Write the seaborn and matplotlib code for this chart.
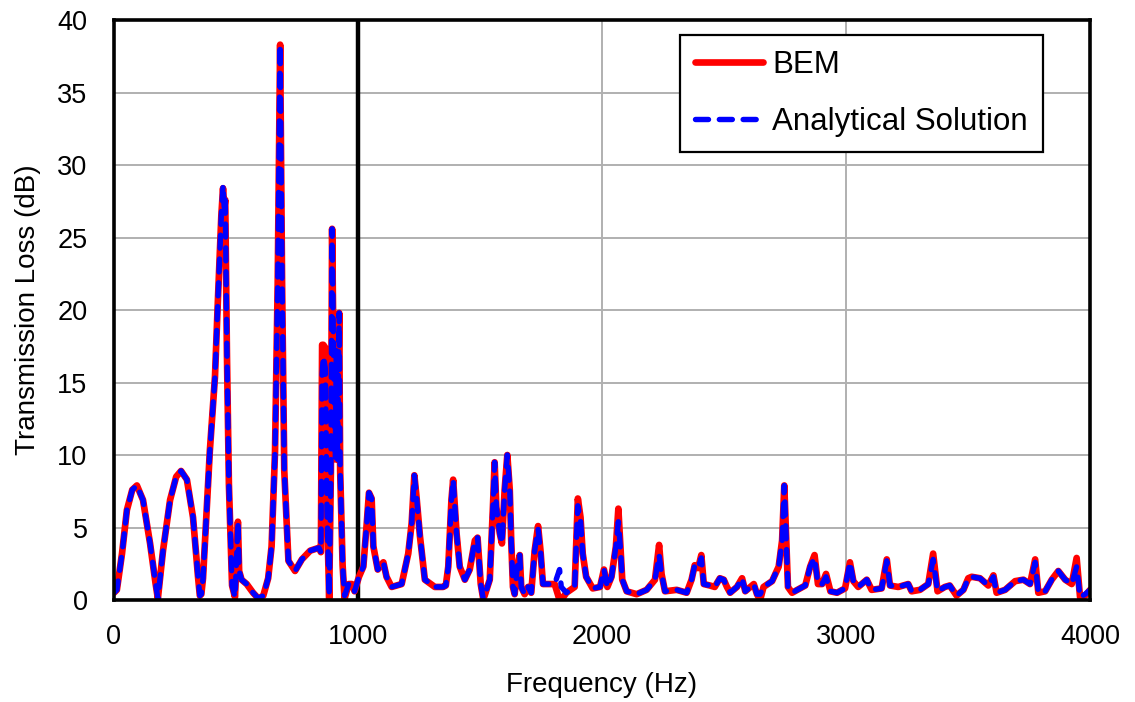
import matplotlib
matplotlib.use("Agg")
import matplotlib.pyplot as plt
import seaborn as sns
import pandas as pd

# ---------------- data ----------------
freq = [0, 12, 33, 53, 75, 94, 119, 148, 170, 180, 201, 230, 255, 275, 299, 324, 345, 352, 358, 365,
        393, 414, 426, 440, 447, 452, 456, 463, 471, 484, 496, 503, 508, 513, 523, 544, 570, 592, 612,
        632, 646, 660, 671, 681, 689, 698, 715, 742, 770, 804, 840, 848, 853, 858, 866, 873, 882, 889,
        894, 900, 907, 911, 916, 923, 927, 937, 945, 962, 975, 986, 1004, 1022, 1036, 1045, 1056, 1063,
        1081, 1104, 1117, 1138, 1179, 1206, 1220, 1231, 1240, 1254, 1274, 1315, 1349, 1360, 1370, 1383,
        1390, 1404, 1417, 1438, 1458, 1479, 1490, 1503, 1513, 1519, 1540, 1553, 1560, 1567, 1581, 1590,
        1601, 1612, 1622, 1628, 1635, 1642, 1653, 1663, 1669, 1683, 1697, 1710, 1724, 1738, 1748, 1758,
        1785, 1806, 1826, 1833, 1854, 1888, 1895, 1901, 1912, 1921, 1935, 1962, 1992, 2008, 2022, 2039,
        2057, 2067, 2077, 2083, 2101, 2142, 2183, 2217, 2234, 2244, 2258, 2306, 2347, 2367, 2380, 2394,
        2407, 2417, 2442, 2462, 2483, 2499, 2512, 2525, 2553, 2574, 2587, 2622, 2635, 2648, 2662, 2697,
        2724, 2738, 2747, 2755, 2762, 2779, 2833, 2853, 2871, 2885, 2902, 2918, 2936, 2963, 2996, 3016,
        3030, 3050, 3085, 3105, 3146, 3167, 3180, 3214, 3255, 3269, 3303, 3337, 3357, 3375, 3405, 3425,
        3453, 3481, 3501, 3515, 3549, 3583, 3604, 3617, 3652, 3693, 3727, 3754, 3775, 3788, 3816, 3843,
        3870, 3898, 3925, 3945, 3959, 3980, 4000]

bem = [0.5, 0.7, 3.2, 6.2, 7.6, 7.9, 6.9, 3.9, 1.2, 0.1, 3.4, 6.9, 8.5, 8.9, 8.3, 5.7, 1.5, 0.3, 0.4, 1.5,
       10.3, 15.4, 20.7, 26.5, 28.4, 27.0, 27.6, 17.0, 8.0, 1.0, 0.2, 3.0, 5.4, 2.0, 1.4, 1.1, 0.5, 0.1, 0.3,
       1.5, 3.7, 10.2, 21.8, 38.3, 21.8, 8.9, 2.7, 2.0, 2.8, 3.4, 3.6, 3.3, 17.6, 17.6, 17.4, 6.3, 0.1, 8.9,
       25.6, 16.7, 9.7, 17.2, 9.7, 19.8, 8.9, 2.4, 0.1, 1.1, 1.1, 0.6, 1.6, 2.3, 5.3, 7.4, 7.0, 3.7,
       2.1, 2.6, 1.6, 0.9, 1.1, 3.2, 5.3, 8.6, 7.1, 4.4, 1.4, 0.9, 0.9, 1.0, 2.3, 6.9,
       8.3, 4.6, 2.3, 1.4, 2.1, 4.1, 4.3, 1.1, 0.1, 0.3, 1.4, 6.4, 9.5, 6.4, 4.6, 3.9,
       7.6, 10.0, 7.6, 4.1, 0.9, 0.4, 2.3, 3.1, 0.9, 0.4, 0.9, 0.5, 3.4, 5.1, 3.4, 1.1,
       1.1, 1.1, 0.0, 0.0, 0.5, 0.9, 4.1, 7.0, 5.7, 3.2, 1.6, 0.8, 0.9, 2.1, 0.9, 1.6,
       3.7, 6.3, 3.2, 1.4, 0.6, 0.4, 0.7, 1.4, 3.8, 1.8, 0.6, 0.7, 0.5, 1.4, 2.4, 2.2,
       3.1, 1.1, 1.0, 0.9, 1.5, 1.4, 0.9, 0.5, 0.9, 1.5, 0.6, 1.1, 0.4, 0.0, 0.9, 1.3,
       2.3, 4.1, 7.9, 4.1, 0.9, 0.5, 1.0, 2.3, 3.1, 1.1, 1.1, 1.8, 0.6, 0.5, 0.8, 2.6,
       1.3, 0.9, 1.4, 0.7, 0.8, 2.8, 1.0, 0.9, 1.1, 0.6, 0.7, 1.1, 3.2, 0.6, 0.9, 1.0,
       0.3, 0.7, 1.5, 1.6, 1.5, 1.0, 1.7, 0.5, 0.7, 1.3, 1.4, 1.1, 2.8, 0.5, 0.6, 1.4,
       2.0, 1.4, 1.1, 2.9, 0.2, 0.3, 0.7]

analytical = [0.5, 0.7, 3.2, 6.2, 7.6, 7.9, 6.9, 3.9, 1.2, 0.1, 3.4, 6.9, 8.5, 8.9, 8.3, 5.7, 1.5, 0.3, 0.4, 1.5,
              10.3, 15.4, 20.7, 26.5, 28.6, 27.0, 27.6, 17.0, 8.0, 1.0, 0.2, 3.0, 5.4, 2.0, 1.4, 1.1, 0.5, 0.1, 0.3,
              1.5, 3.7, 10.2, 21.8, 38.3, 21.8, 8.9, 2.7, 2.0, 2.8, 3.4, 3.6, 3.3, 15.5, 16.8, 16.0, 6.3, 0.3, 8.9,
              25.6, 16.7, 9.7, 17.2, 9.7, 19.8, 8.9, 2.4, 0.3, 1.1, 1.1, 0.6, 1.6, 2.3, 5.3, 7.4, 7.0, 3.7,
              2.1, 2.6, 1.6, 0.9, 1.1, 3.2, 5.3, 8.6, 7.1, 4.4, 1.4, 0.9, 0.9, 1.0, 2.3, 6.9,
              8.3, 4.6, 2.3, 1.4, 2.1, 4.1, 4.3, 1.1, 0.1, 0.3, 1.4, 6.4, 9.5, 6.4, 4.6, 3.9,
              7.6, 10.0, 7.6, 4.1, 0.9, 0.4, 2.3, 3.1, 0.9, 0.4, 0.9, 0.5, 3.4, 4.9, 3.4, 1.1,
              1.1, 1.1, 2.1, 0.9, 0.5, 0.9, 4.1, 6.5, 5.5, 3.2, 1.6, 0.8, 0.9, 2.1, 0.9, 1.6,
              3.7, 5.4, 3.2, 1.4, 0.6, 0.4, 0.7, 1.4, 3.1, 1.8, 0.6, 0.7, 0.5, 1.4, 2.4, 2.2,
              2.9, 1.1, 1.0, 0.9, 1.5, 1.4, 0.9, 0.5, 0.9, 1.5, 0.6, 1.1, 0.4, 0.4, 0.9, 1.3,
              2.3, 4.1, 7.9, 4.1, 0.9, 0.5, 1.0, 2.3, 2.9, 1.1, 1.1, 1.6, 0.6, 0.5, 0.8, 2.6,
              1.3, 0.9, 1.4, 0.7, 0.8, 2.7, 1.0, 0.9, 1.1, 0.6, 0.7, 1.1, 2.8, 0.6, 0.9, 1.0,
              0.3, 0.7, 1.5, 1.6, 1.5, 1.0, 1.6, 0.5, 0.7, 1.3, 1.4, 1.1, 2.6, 0.5, 0.6, 1.4,
              2.0, 1.4, 1.1, 2.3, 0.2, 0.4, 0.7]

series_names = ["BEM", "Analytical Solution"]
x_ticks = [0, 1000, 2000, 3000, 4000]
y_ticks = [0, 5, 10, 15, 20, 25, 30, 35, 40]

# ---------------- plotting ----------------
sns.set_style("white")
plt.rcParams["font.family"] = ["Liberation Sans", "DejaVu Sans"]
plt.rcParams["text.color"] = "black"
plt.rcParams["axes.labelcolor"] = "black"

fig = plt.figure(figsize=(11.35, 7.02), dpi=100)
ax = fig.add_axes([0.1004, 0.1453, 0.8600, 0.8262])

df_bem = pd.DataFrame({"Frequency": freq, "TL": bem})
df_ana = pd.DataFrame({"Frequency": freq, "TL": analytical})

sns.lineplot(data=df_bem, x="Frequency", y="TL", ax=ax, color="#FF0000",
             linewidth=4.8, estimator=None, sort=False, label=series_names[0])
sns.lineplot(data=df_ana, x="Frequency", y="TL", ax=ax, color="#0000FF",
             linewidth=3.9, estimator=None, sort=False, label=series_names[1])
for ln in ax.lines:
    ln.set_solid_capstyle("round")
    ln.set_solid_joinstyle("round")
blue = ax.lines[1]
blue.set_dashes((2.4, 2.0))
blue.set_dash_capstyle("round")
blue.set_dash_joinstyle("round")

ax.axvline(1000, color="black", linewidth=3.2, zorder=1.5)

ax.set_xlim(0, 4000)
ax.set_ylim(0, 40)
ax.set_xticks(x_ticks)
ax.set_yticks(y_ticks)
ax.grid(True, color="#B0B0B0", linewidth=1.4)
ax.set_axisbelow(True)
for sp in ax.spines.values():
    sp.set_visible(True)
    sp.set_color("black")
    sp.set_linewidth(2.6)

ax.tick_params(axis="both", length=0, labelsize=19.5, colors="black")
ax.tick_params(axis="x", pad=17)
ax.tick_params(axis="y", pad=19)
ax.set_xlabel("Frequency (Hz)", fontsize=20, labelpad=16, color="black")
ax.set_ylabel("Transmission Loss (dB)", fontsize=20, labelpad=12, color="black")

leg = ax.legend(loc="upper right", bbox_to_anchor=(0.952, 0.975), fontsize=22.5,
                frameon=True, fancybox=False, edgecolor="black", framealpha=1,
                handlelength=2.15, labelspacing=0.85, borderpad=0.5, handletextpad=0.3,
                borderaxespad=0)
leg.get_frame().set_linewidth(1.6)
for t in leg.get_texts():
    t.set_color("black")

fig.savefig("out.png", dpi=100)
